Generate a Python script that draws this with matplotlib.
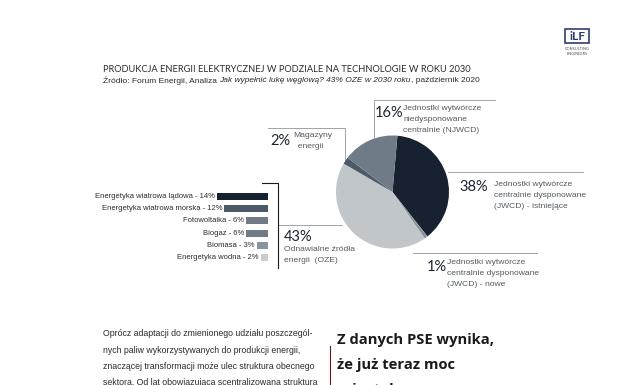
import matplotlib
matplotlib.use("Agg")
import matplotlib.pyplot as plt
from matplotlib.patches import Rectangle

# ---------------- data ----------------
pie_labels = ["JWCD - istniejące", "JWCD - nowe", "OZE", "Magazyny energii", "NJWCD"]
pie_values = [38, 1, 43, 2, 16]
pie_colors = ["#17212f", "#8c959d", "#c0c6ca", "#4c5a68", "#6f7b86"]

bar_labels = ["Energetyka wiatrowa lądowa", "Energetyka wiatrowa morska", "Fotowoltaika",
              "Biogaz", "Biomasa", "Energetyka wodna"]
bar_values = [14, 12, 6, 6, 3, 2]
bar_colors = ["#17212f", "#4c5a68", "#6f7b86", "#6f7b86", "#8a949c", "#c8cdd0"]

title = "PRODUKCJA ENERGII ELEKTRYCZNEJ W PODZIALE NA TECHNOLOGIE W ROKU 2030"
source_parts = [("Źródło: Forum Energii, Analiza ", "normal"),
                ("Jak wypełnić lukę węglową? 43% OZE w 2030 roku", "italic"),
                (", październik 2020", "normal")]

W, H = 638, 385
fig = plt.figure(figsize=(W / 100, H / 100), dpi=100)
fig.patch.set_facecolor("white")

def px_axes(x0, y0, x1, y1, **kw):
    return fig.add_axes([x0 / W, 1 - y1 / H, (x1 - x0) / W, (y1 - y0) / H], **kw)

base = px_axes(0, 0, W, H)
base.set_xlim(0, W)
base.set_ylim(H, 0)
base.axis("off")

COND = ["Liberation Sans Narrow", "Liberation Sans", "DejaVu Sans"]
GEO = ["Lato", "DejaVu Sans"]
txt = "#2b2b2b"
lab = "#555a5e"
linec = "#a0a4a8"

# title & source
base.text(103, 70, title, fontsize=6.7, family=GEO, color=txt, va="center")
r = fig.canvas.get_renderer()
x = 103
for s, style in source_parts:
    t = base.text(x, 81, s, fontsize=6.0, family=COND, style=style, color=txt, va="center")
    x += t.get_window_extent(renderer=r).width

# logo
base.add_patch(Rectangle((565, 29), 24, 14, facecolor="white", edgecolor="#2c3f73", lw=1.2))
base.text(577, 36.5, "iLF", fontsize=8.5, family=GEO, fontweight="bold", color="#2c3f73",
          ha="center", va="center")
base.text(577, 49, "CONSULTING", fontsize=2.8, family=GEO, color="#555", ha="center", va="center")
base.text(577, 54, "ENGINEERS", fontsize=2.8, family=GEO, color="#555", ha="center", va="center")

# pie
pax = px_axes(336, 135, 449, 249)
pax.pie(pie_values, colors=pie_colors, startangle=85, counterclock=False,
        wedgeprops=dict(linewidth=0))
pax.set_xlim(-1, 1)
pax.set_ylim(-1, 1)
pax.set_aspect("equal")

# bars
bax = px_axes(190, 190, 268, 264)
ypos = list(range(len(bar_values)))
bax.barh(ypos, bar_values, color=bar_colors, height=0.58, align="center")
bax.set_xlim(21.4, 0)
bax.set_ylim(len(bar_values) - 0.5, -0.5)
bax.axis("off")
for y, v, l in zip(ypos, bar_values, bar_labels):
    bax.text(v + 0.6, y, f"{l} - {v}%", fontsize=5.5, family=COND, color=txt,
             ha="right", va="center")

# callout lines
L = dict(color=linec, lw=0.7)
base.plot([268, 345, 345], [128, 128, 170], **L)        # 2%
base.plot([374, 374], [148, 100], **L)                  # 16%
base.plot([374, 495], [100, 100], **L)
base.plot([448, 583], [172, 172], **L)                  # 38%
base.plot([413, 537], [253, 253], **L)                  # 1%
base.plot([342, 278], [225, 225], **L)                  # 43%
base.plot([262, 278, 278], [183, 183, 268], color="#1a1a1a", lw=0.8)  # bracket

PCT = dict(fontsize=10.5, family=GEO, color="#1c2430", va="center")
SML = dict(fontsize=6.1, family=COND, color=lab, va="top", linespacing=1.75)
base.text(270, 141, "2%", **PCT)
base.text(293, 132, "Magazyny\n  energii", **SML)
base.text(375, 113, "16%", **PCT)
base.text(403, 105, "Jednostki wytwórcze\nniedysponowane\ncentralnie (NJWCD)", **SML)
base.text(459, 187, "38%", **PCT)
base.text(494, 181, "Jednostki wytwórcze\ncentralnie dysponowane\n(JWCD) - istniejące", **SML)
base.text(427, 267, "1%", **PCT)
base.text(447, 259, "Jednostki wytwórcze\ncentralnie dysponowane\n(JWCD) - nowe", **SML)
base.text(284, 237, "43%", **PCT)
base.text(284, 246, "Odnawialne źródła\nenergii  (OZE)", **SML)

# bottom body text
body = ["Oprócz adaptacji do zmienionego udziału poszczegól-",
        "nych paliw wykorzystywanych do produkcji energii,",
        "znaczącej transformacji może ulec struktura obecnego",
        "sektora. Od lat obowiązująca scentralizowana struktura"]
for i, s in enumerate(body):
    base.text(103, 334 + i * 16.3, s, fontsize=6.3, family=COND, color=txt, va="center")
base.plot([330, 330], [346, 385], color="#5a1f1f", lw=0.8)
head = ["Z danych PSE wynika,", "że już teraz moc", "zainstalowana"]
for i, s in enumerate(head):
    base.text(337, 340 + i * 25, s, fontsize=10.6, family=["Open Sans", "DejaVu Sans"],
              fontweight="bold", color="#1a1a1a", va="center")

fig.savefig("out.png", dpi=100, facecolor="white")
